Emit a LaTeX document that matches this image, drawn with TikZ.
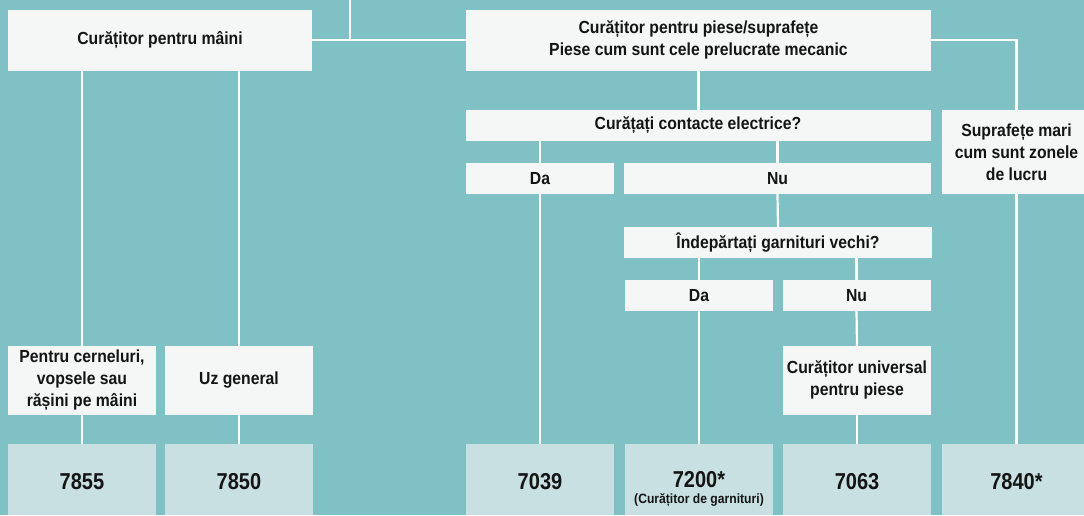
\documentclass[tikz,border=0pt]{standalone}
\usepackage{fontspec}
\setmainfont{Liberation Sans}[FakeStretch=0.9]
\newfontfamily\numfont{Liberation Sans}[FakeStretch=0.87]
\definecolor{bgteal}{HTML}{80C1C6}
\definecolor{boxwhite}{HTML}{F5F7F6}
\definecolor{numfill}{HTML}{C8E0E1}
\definecolor{inkc}{HTML}{141414}
\tikzset{
  qbox/.style={fill=boxwhite, draw=none, inner sep=0pt, align=center, text=inkc,
    font=\fontsize{17.5}{22}\selectfont\bfseries},
  nbox/.style={fill=numfill, draw=none, inner sep=0pt, minimum width=148pt, minimum height=71pt},
  ntext/.style={inner sep=0pt, text=inkc, font=\numfont\fontsize{23}{23}\selectfont\bfseries},
  stext/.style={inner sep=0pt, text=inkc, anchor=base, font=\fontsize{13.5}{14}\selectfont\bfseries},
  link/.style={draw=white, line width=2.2pt},
}
\begin{document}
\begin{tikzpicture}[x=1pt,y=-1pt]
\useasboundingbox (0,0) rectangle (1084,515);
\clip (0,0) rectangle (1084,515);
\fill[bgteal] (0,0) rectangle (1084,515);

% top row
\node[qbox, minimum width=304pt, minimum height=60.7pt] (hands) at (160,40.35) {Curățitor pentru mâini};
\node[qbox, minimum width=465pt, minimum height=60.7pt] (parts) at (698.5,40.35) {Curățitor pentru piese/suprafețe\\Piese cum sunt cele prelucrate mecanic};

% questions
\node[qbox, minimum width=465pt, minimum height=30.7pt] (contacts) at (698,125.35) {Curățați contacte electrice?};
\node[qbox, minimum width=148pt, minimum height=30.2pt] (da1) at (540,178.4) {Da};
\node[qbox, minimum width=307pt, minimum height=30.2pt] (nu1) at (777.5,178.4) {Nu};
\node[qbox, minimum width=149pt, minimum height=83.5pt] (large) at (1016.5,151.75) {Suprafețe mari\\cum sunt zonele\\de lucru};
\node[qbox, minimum width=308pt, minimum height=30.4pt] (remove) at (778,242.5) {Îndepărtați garnituri vechi?};
\node[qbox, minimum width=148pt, minimum height=30.7pt] (da2) at (699,295.35) {Da};
\node[qbox, minimum width=148pt, minimum height=30.7pt] (nu2) at (856.5,295.35) {Nu};

% third level
\node[qbox, minimum width=148pt, minimum height=68.7pt] (inkb) at (82,380.35) {Pentru cerneluri,\\vopsele sau\\rășini pe mâini};
\node[qbox, minimum width=148pt, minimum height=68.7pt] (general) at (239,380.35) {Uz general};
\node[qbox, minimum width=148pt, minimum height=68.7pt] (univ) at (857,380.35) {Curățitor universal\\pentru piese};

% product boxes
\node[nbox] (b7855) at (82,479.5) {};
\node[nbox] (b7850) at (239,479.5) {};
\node[nbox] (b7039) at (540,479.5) {};
\node[nbox] (b7200) at (699,479.5) {};
\node[nbox] (b7063) at (857,479.5) {};
\node[nbox, minimum width=149pt] (b7840) at (1016.5,479.5) {};
\node[ntext] (t7855) at (82,481.5) {7855};
\node[ntext] (t7850) at (239,481.5) {7850};
\node[ntext] (t7039) at (540,481.5) {7039};
\node[ntext] (t7200) at (699,479.5) {7200*};
\node[stext] (s7200) at (699,503) {(Curățitor de garnituri)};
\node[ntext] (t7063) at (857,481.5) {7063};
\node[ntext] (t7840) at (1016.5,481.5) {7840*};

% connectors
\coordinate (topin) at (350,0);
\draw[link] (topin) -- (topin |- hands.east);
\draw[link] (hands.east) -- (parts.west);
\draw[link] (parts.east) -| (large.north);
\draw[link] (parts.south) -- (parts.south |- contacts.north);
\draw[link] (inkb.north) -- (inkb.north |- hands.south);
\draw[link] (general.north) -- (general.north |- hands.south);
\draw[link] (inkb.south) -- (b7855.north);
\draw[link] (general.south) -- (b7850.north);
\draw[link] (da1.north) -- (da1.north |- contacts.south);
\draw[link] (nu1.north) -- (nu1.north |- contacts.south);
\draw[link] (da1.south) -- (b7039.north);
\draw[link] (nu1.south) -- (remove.north);
\draw[link] (da2.north) -- (da2.north |- remove.south);
\draw[link] (nu2.north) -- (nu2.north |- remove.south);
\draw[link] (da2.south) -- (b7200.north);
\draw[link] (nu2.south) -- (univ.north);
\draw[link] (univ.south) -- (b7063.north);
\draw[link] (large.south) -- (b7840.north);
\end{tikzpicture}
\end{document}
